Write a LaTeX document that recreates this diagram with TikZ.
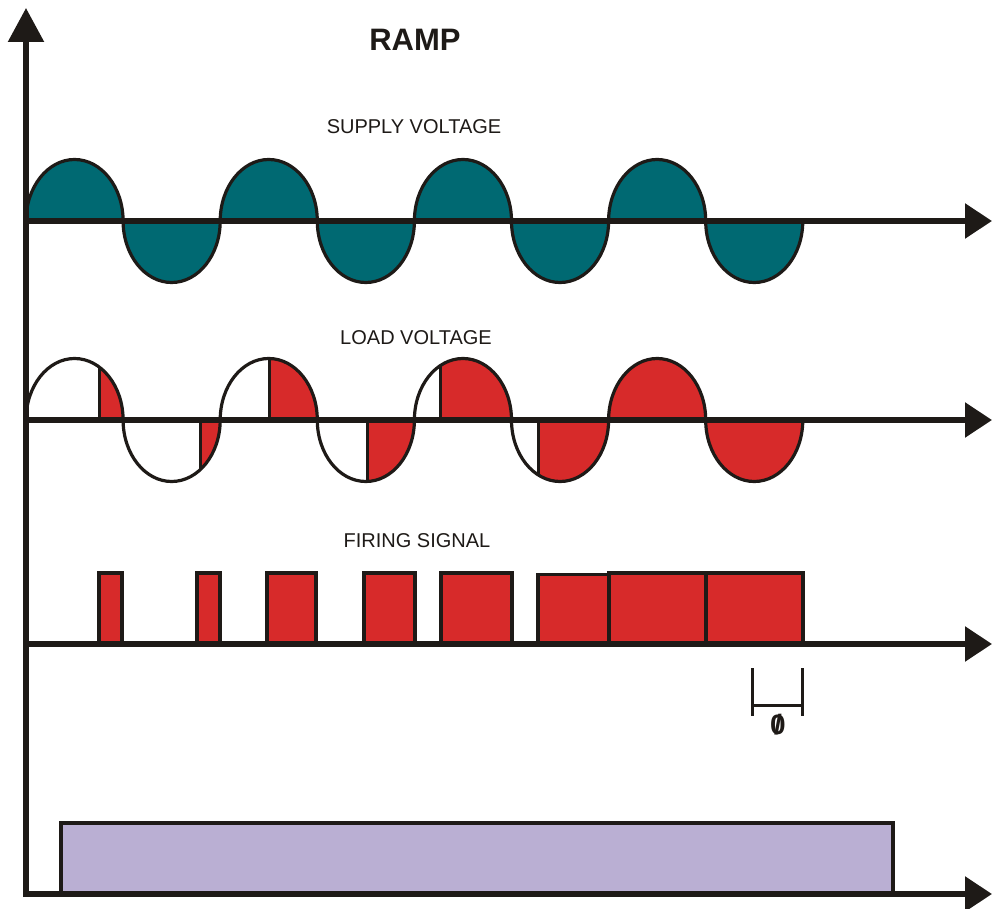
\documentclass[tikz,border=0pt]{standalone}
\usepackage{fontspec}
\setmainfont{Liberation Sans}
\usetikzlibrary{arrows.meta}
\definecolor{tealf}{RGB}{0,105,114}
\definecolor{redf}{RGB}{215,42,42}
\definecolor{lavf}{RGB}{186,175,211}
\definecolor{ink}{RGB}{30,26,23}
\begin{document}
\begin{tikzpicture}[x=0.5pt,y=-0.5pt,
  axisline/.style={line width=2.8pt, draw=ink, -{Triangle[length=13.5pt,width=17pt]}},
  humpline/.style={line width=1.6pt, draw=ink},
  pulse/.style={line width=1.6pt, draw=ink, fill=redf},
  thin/.style={line width=1.5pt, draw=ink},
  lbl/.style={font=\fontsize{10}{12}\selectfont, text=ink, inner sep=0pt}]
\useasboundingbox (0,0) rectangle (992,909);

% ---------- supply voltage ----------
\foreach \i in {0,...,7} {
  \pgfmathsetmacro\xa{26+97.1*\i}
  \pgfmathsetmacro\ea{mod(\i,2)==0 ? 360 : 0}
  \filldraw[humpline, fill=tealf] (\xa,221) arc[start angle=180, end angle=\ea, x radius=48.55, y radius=61.5] -- cycle;
}

% ---------- load voltage ----------
\foreach \i/\xf in {0/99,1/200,2/269,3/367,4/440,5/538,6/608,7/705} {
  \pgfmathsetmacro\xa{26+97.1*\i}
  \pgfmathsetmacro\xb{26+97.1*(\i+1)}
  \pgfmathsetmacro\ea{mod(\i,2)==0 ? 360 : 0}
  \begin{scope}
    \clip (\xa,420) arc[start angle=180, end angle=\ea, x radius=48.55, y radius=61.5] -- cycle;
    \fill[redf] (\xf,340) rectangle (\xb+5,500);
    \draw[thin] (\xf,340) -- (\xf,500);
  \end{scope}
  \draw[humpline] (\xa,420) arc[start angle=180, end angle=\ea, x radius=48.55, y radius=61.5] -- cycle;
}

% ---------- firing signal ----------
\draw[pulse] (99,573) rectangle (122,644);
\draw[pulse] (197,573) rectangle (220,644);
\draw[pulse] (267,573) rectangle (316,644);
\draw[pulse] (364,573) rectangle (415,644);
\draw[pulse] (441,573) rectangle (512,644);
\draw[pulse] (538,574.5) rectangle (609,644);
\draw[pulse] (609,573) rectangle (706,644);
\draw[pulse] (706,573) rectangle (803,644);

% ---------- ramp ----------
\draw[line width=1.8pt, draw=ink, fill=lavf] (61,823) rectangle (893,894);

% ---------- axes ----------
\coordinate (O) at (26,897);
\coordinate (Ytop) at (26,8);
\draw[axisline, -{Triangle[length=17pt,width=17.5pt]}] (O) -- (Ytop);
\coordinate (s0) at (26,221);  \coordinate (s1) at (992,221);
\coordinate (l0) at (26,420);  \coordinate (l1) at (992,420);
\coordinate (f0) at (26,644);  \coordinate (f1) at (992,644);
\coordinate (r0) at (23,894);  \coordinate (r1) at (992,894);
\draw[axisline] (s0) -- (s1);
\draw[axisline] (l0) -- (l1);
\draw[axisline] (f0) -- (f1);
\draw[axisline] (r0) -- (r1);

% ---------- phi marker ----------
\coordinate (p1) at (752,668); \coordinate (p2) at (752,716);
\coordinate (p3) at (802,668); \coordinate (p4) at (802,716);
\coordinate (p5) at (752,705); \coordinate (p6) at (802,705);
\draw[thin] (p1) -- (p2);
\draw[thin] (p3) -- (p4);
\draw[thin] (p5) -- (p6);
\node[lbl, font=\fontsize{14}{16}\selectfont\bfseries] (phi) at (778,725) {\ooalign{0\cr\hidewidth/\hidewidth}};

% ---------- labels ----------
\node[lbl, font=\fontsize{15.5}{18}\selectfont\bfseries] (ramp) at (415,40) {RAMP};
\node[lbl] (supply) at (414,127) {SUPPLY VOLTAGE};
\node[lbl] (load) at (416,338) {LOAD VOLTAGE};
\node[lbl] (firing) at (417,541) {FIRING SIGNAL};
\end{tikzpicture}
\end{document}
